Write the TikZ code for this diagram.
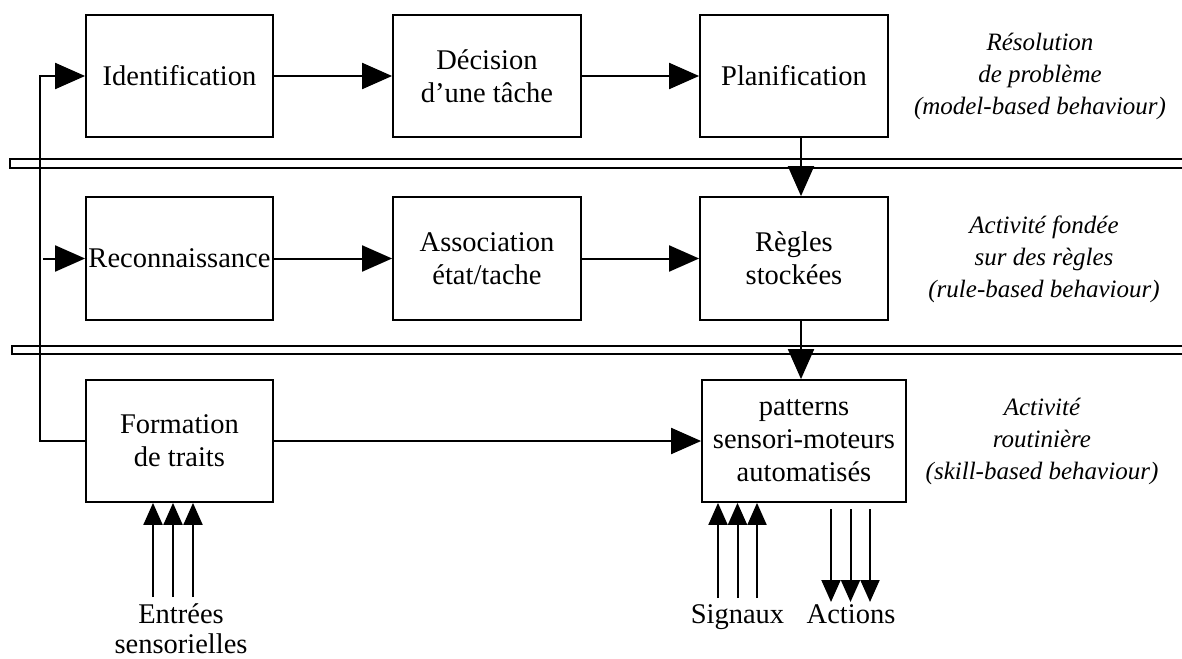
\documentclass[tikz,border=0pt]{standalone}
\usepackage{fontspec}
\setmainfont{Liberation Serif}
\usetikzlibrary{arrows.meta,calc}
\begin{document}
\begin{tikzpicture}[x=1pt,y=-1pt,
  box/.style={draw, line width=1.8pt, inner sep=0pt, align=center,
    minimum height=122pt, font=\fontsize{28.5}{33}\selectfont},
  lab/.style={align=center, font=\fontsize{25}{32}\selectfont\itshape},
  io/.style={align=center, anchor=base, font=\fontsize{28.5}{30}\selectfont},
  conn/.style={line width=2pt},
  big/.style={conn, -{Triangle[length=30pt,width=26pt]}},
  small/.style={conn, -{Triangle[length=22pt,width=19pt]}},
  bar/.style={line width=1.8pt}]
\useasboundingbox (0,0) rectangle (1182,658);
% separators
\draw[bar] (10,159) rectangle (1200,168);
\draw[bar] (12,346) rectangle (1200,354);
% boxes
\node[box, minimum width=187pt] (ident) at (179.5,76) {Identification};
\node[box, minimum width=188pt] (dec) at (487,76) {Décision\\d’une tâche};
\node[box, minimum width=188pt] (plan) at (794,76) {Planification};
\node[box, minimum width=187pt, minimum height=123pt] (recon) at (179.5,258.5) {Reconnaissance};
\node[box, minimum width=188pt, minimum height=123pt] (assoc) at (487,258.5) {Association\\état/tache};
\node[box, minimum width=188pt, minimum height=123pt] (regles) at (794,258.5) {Règles\\stockées};
\node[box, minimum width=187pt] (form) at (179.5,441) {Formation\\de traits};
\node[box, minimum width=204pt] (patt) at (804,441) {patterns\\sensori-moteurs\\automatisés};
% level labels
\node[lab] (l1) at (1040,76) {Résolution\\de problème\\(model-based behaviour)};
\node[lab] (l2) at (1044,259) {Activité fondée\\sur des règles\\(rule-based behaviour)};
\node[lab] (l3) at (1042,441) {Activité\\routinière\\(skill-based behaviour)};
% connectors
\coordinate (vx) at (801,0);
\coordinate (fb) at (40,0);
\draw[big] (ident.east) -- (dec.west);
\draw[big] (dec.east) -- (plan.west);
\draw[big] (recon.east) -- (assoc.west);
\draw[big] (assoc.east) -- (regles.west);
\draw[big] (plan.south -| vx) -- (regles.north -| vx);
\draw[big] (regles.south -| vx) -- (patt.north -| vx);
\draw[big] (form.east) -- (patt.west);
\draw[big] (form.west) -- (form.west -| fb) -- (ident.west -| fb) -- (ident.west);
\draw[big] ($(recon.west -| fb)+(3,0)$) -- (recon.west);
% sensory inputs
\foreach \x [count=\i] in {153,173,193} {
  \coordinate (e\i) at (\x,597);
  \draw[small] (e\i) -- (e\i |- form.south);
}
\foreach \x [count=\i] in {718,737.5,757} {
  \coordinate (s\i) at (\x,598);
  \draw[small] (s\i) -- (s\i |- patt.south);
}
\foreach \x [count=\i] in {831,850.5,870} {
  \coordinate (a\i) at (\x,509);
  \coordinate (b\i) at (\x,602);
  \draw[small] (a\i) -- (b\i);
}
\node[io] (entrees) at (181,653) {Entrées\\sensorielles};
\node[io] (signaux) at (737.5,623) {Signaux};
\node[io] (actions) at (851,623) {Actions};
\end{tikzpicture}
\end{document}
